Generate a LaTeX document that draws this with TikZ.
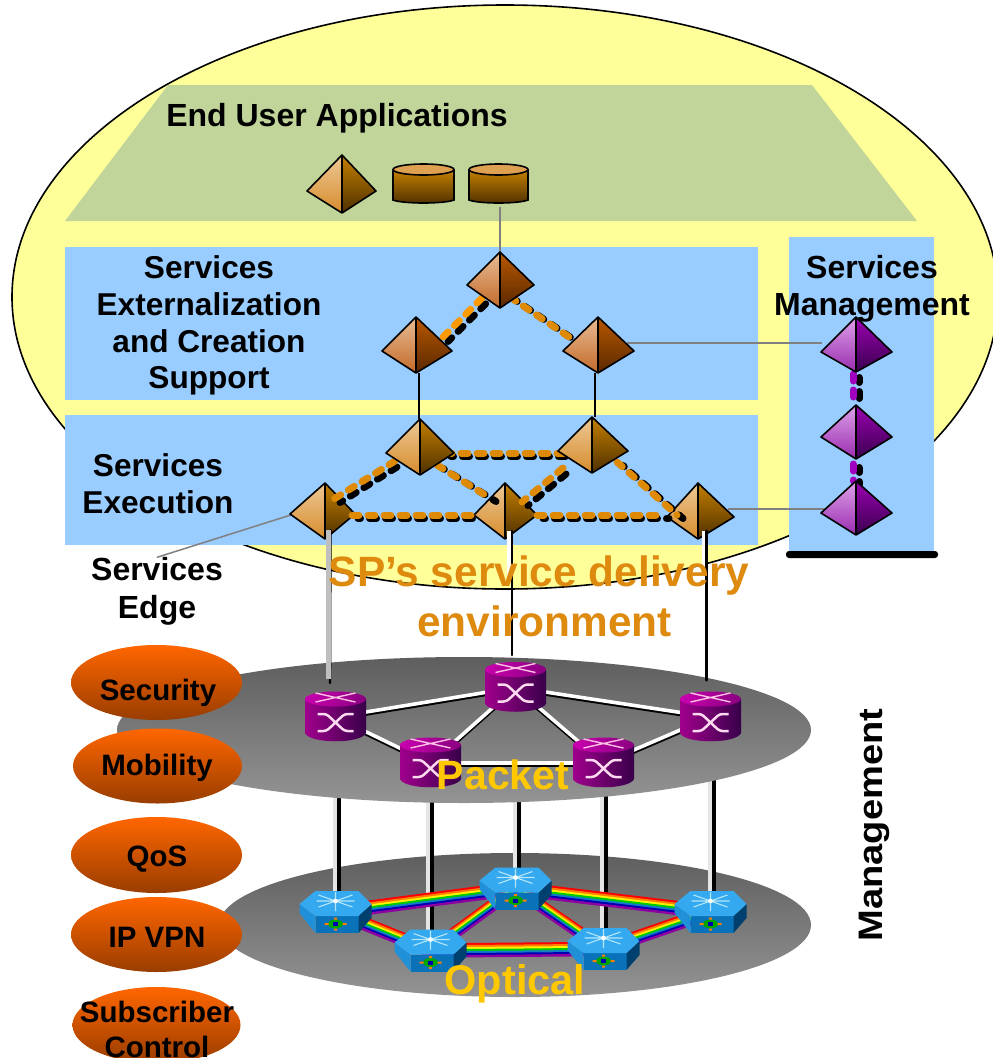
\documentclass[tikz,border=0pt]{standalone}
\usepackage{fontspec}
\setmainfont{Liberation Sans}
\usetikzlibrary{calc}
\definecolor{ltA}{HTML}{EDC896}\definecolor{lbA}{HTML}{D68C2C}\definecolor{rtA}{HTML}{C47F00}\definecolor{rbA}{HTML}{4F3000}
\definecolor{ltB}{HTML}{E9BC96}\definecolor{lbB}{HTML}{C26A28}\definecolor{rtB}{HTML}{B85800}\definecolor{rbB}{HTML}{5A2800}
\definecolor{ltP}{HTML}{DDA0E8}\definecolor{lbP}{HTML}{9A2DB0}\definecolor{rtP}{HTML}{9A00B0}\definecolor{rbP}{HTML}{3A0050}
\definecolor{envyellow}{HTML}{FFFF99}
\definecolor{layerblue}{HTML}{99CCFF}
\definecolor{appgreen}{HTML}{C1D59A}
\definecolor{linkorange}{HTML}{DE8A05}
\definecolor{linkbright}{HTML}{FF9900}
\definecolor{linkpurple}{HTML}{A000C0}
\definecolor{sptext}{HTML}{DE8A0F}
\definecolor{gold}{HTML}{FFC800}
\definecolor{rtrL}{HTML}{A0008C}\definecolor{rtrR}{HTML}{38004A}
\definecolor{rtrTopL}{HTML}{C800AE}\definecolor{rtrTopR}{HTML}{8A0080}
\definecolor{swTop}{HTML}{35A9EF}\definecolor{swLeft}{HTML}{2090D8}\definecolor{swFront}{HTML}{0A72B8}\definecolor{swRight}{HTML}{00406E}
\definecolor{ovalT}{HTML}{FF6600}\definecolor{ovalB}{HTML}{993D00}
\tikzset{
  lab/.style 2 args={font=\fontsize{#1}{#2}\selectfont\bfseries,align=center,inner sep=0pt},
  lk/.style={line width=7pt,line cap=round,dash pattern=on 7pt off 9pt},
  thinline/.style={line width=1.5pt,black},
  greyline/.style={line width=1.5pt,color=black!50},
  edgeline/.style={line width=1.6pt,black},
  plane/.style={top color=black!63,bottom color=black!42},
}
% pyramid: colour set, name, left, ridge x, right, top, mid, bottom
\newcommand\pyramid[8]{%
  \coordinate (#2) at (#4,#7);
  \shade[top color=lt#1,bottom color=lb#1] (#3,#7) -- (#4,#6) -- (#4,#8) -- cycle;
  \shade[top color=rt#1,bottom color=rb#1] (#5,#7) -- (#4,#6) -- (#4,#8) -- cycle;
  \draw[edgeline,line join=round] (#3,#7) -- (#4,#6) -- (#5,#7) -- (#4,#8) -- cycle (#4,#6) -- (#4,#8);
}
% dashed link with a black shadow whose dashes stay almost in step with the upper line
\newcommand\dlk[5][linkorange]{%
  \coordinate (lka) at ($(#2)+(#3)$);
  \coordinate (lkb) at ($(#4)+(#5)$);
  \path let \p1=($(lkb)-(lka)$), \n1={veclen(\x1,\y1)}, \n2={(6*\x1-3.5*\y1)/\n1+30.5} in \pgfextra{\xdef\dph{\n2}};
  \draw[lk,dash phase=\dph,black] ($(lka)+(6,3.5)$) -- ($(lkb)+(6,3.5)$);
  \draw[lk,#1] (lka) -- (lkb);
}
\newcommand\cyl[5]{%
  \coordinate (#1) at ({(#2+#3)/2},{(#4+#5)/2});
  \shade[top color=rtA,bottom color=rbA] (#2,#4+6) -- (#2,#5-3) .. controls (#2+10,#5+1) and (#3-10,#5+1) .. (#3,#5-3) -- (#3,#4+6) -- cycle;
  \draw[edgeline] (#2,#4+6) -- (#2,#5-3) .. controls (#2+10,#5+1) and (#3-10,#5+1) .. (#3,#5-3) -- (#3,#4+6);
  \draw[edgeline,fill=ltA!35!lbA] ({(#2+#3)/2},#4+5.5) ellipse[x radius={(#3-#2)/2},y radius=5.5];
}
\newcommand\router[3]{%
  \begin{scope}[shift={(#2,#3)}]
  \coordinate (#1) at (0,0);
  \shade[left color=rtrL,right color=rtrR] (-30.5,-18) -- (-30.5,16) .. controls (-26,27) and (26,27) .. (30.5,16) -- (30.5,-18) -- cycle;
  \shade[left color=rtrTopL,right color=rtrTopR] (0,-18) ellipse[x radius=30.5,y radius=7.5];
  \draw[white!85!magenta,line width=2.5pt,rounded corners=3pt]
    (-18,-3) -- (-9,-3) -- (9,14) -- (18,14) (-18,14) -- (-9,14) -- (9,-3) -- (18,-3);
  \draw[white!75!magenta,line width=1.4pt] (-20,-24) -- (20,-15) (-20,-15) -- (20,-24);
  \end{scope}
}
\newcommand\switch[3]{%
  \begin{scope}[shift={(#2,#3)}]
  \coordinate (#1) at (0,0);
  \fill[swLeft] (-36,-8) -- (-20,4) -- (-20,21) -- (-36,1) -- cycle;
  \fill[swFront] (-20,4) -- (23,4) -- (23,21) -- (-20,21) -- cycle;
  \fill[swRight] (23,4) -- (36,-8) -- (36,6) -- (23,21) -- cycle;
  \fill[swTop] (-20,-21) -- (23,-21) -- (36,-8) -- (23,4) -- (-20,4) -- (-36,-8) -- cycle;
  \draw[white!70!cyan,line width=1.1pt] (-17,-17) -- (17,-5) (-17,-5) -- (17,-17) (0,-20) -- (0,-1) (-19,-11) -- (19,-11);
  \fill[white] (0,-11) circle[radius=2.4];
  \fill[green!65!black] (0,12) ellipse[x radius=7.5,y radius=4.5];
  \fill[orange] (-11,11) rectangle (-7,13) (7,11) rectangle (11,13) (-1.5,5.5) rectangle (1.5,7.5) (-1.5,16.5) rectangle (1.5,18.5);
  \fill[blue!70!black] (-2.5,10) rectangle (2.5,14);
  \end{scope}
}
\newcommand\rainbow[2]{%
  \foreach \cc/\ss in {red/-6,orange/-4,yellow/-2,green!80!black/0,cyan!60!blue/2,blue!70!black/4,purple!60!blue!80!magenta/6}{
    \draw[\cc,line width=2.4pt] ($(#1)+(0,\ss)$) -- ($(#2)+(0,\ss)$);
  }%
}
\newcommand\wlink[2]{%
  \draw[black,line width=3.6pt] ($(#1)+(0,2)$) -- ($(#2)+(0,2)$);
  \draw[white,line width=3.6pt] (#1) -- (#2);
}
\newcommand\sblob[5]{%
  \shade[top color=ovalT,bottom color=ovalB] (#2,#3) ellipse[x radius=#4,y radius=#5];
  \coordinate (#1) at (#2,#3);
}
\begin{document}
\begin{tikzpicture}[x=1pt,y=-1pt]
\useasboundingbox (0,0) rectangle (993,1058);
\clip (0,0) rectangle (993,1058);
\fill[white] (0,0) rectangle (993,1058);
% environment
\draw[fill=envyellow,line width=1.6pt] (505,297) ellipse[x radius=493,y radius=292];
\fill[appgreen] (65,221) -- (917,221) -- (812,85) -- (168,85) -- cycle;
\fill[layerblue] (65,247) rectangle (758,400);
\fill[layerblue] (65,415) rectangle (758,545);
\fill[layerblue] (789,237) rectangle (934,552);
\fill[black,rounded corners=3pt] (786,551) rectangle (938,558);
% planes
\shade[plane] (515,925) ellipse[x radius=296,y radius=72];
\node[lab={32}{38}] (edgelabel) at (157,591.5) {Services\\Edge};
% routers and switches positions
\coordinate (R1) at (335.5,717);\coordinate (R2) at (515.5,687.5);\coordinate (R3) at (710.5,717);
\coordinate (R4) at (430.5,763);\coordinate (R5) at (603.5,763);
\coordinate (O1) at (335.5,912);\coordinate (O2) at (515.5,888.5);\coordinate (O3) at (710.5,912);
\coordinate (O4) at (430.5,950.5);\coordinate (O5) at (603.5,949);
% packet-optical connectors
\foreach \ra/\oa/\dx in {R1/O1/3.5,R4/O4/1.5,R2/O2/3.5,R5/O5/2.5,R3/O3/3.5}{
  \draw[white!90!black,line width=4pt] ($(\ra)+(\dx-4,0)$) -- ($(\oa)+(\dx-4,-16)$);
  \draw[black,line width=4pt] ($(\ra)+(\dx,0)$) -- ($(\oa)+(\dx,-20)$);
}
\shade[plane] (464,730) ellipse[x radius=347,y radius=73];
% optical ring
\rainbow{O1}{O2}\rainbow{O2}{O3}\rainbow{O2}{O4}\rainbow{O2}{O5}\rainbow{O1}{O4}\rainbow{O4}{O5}\rainbow{O5}{O3}
\switch{O1}{335.5}{912}\switch{O2}{515.5}{888.5}\switch{O3}{710.5}{912}\switch{O4}{430.5}{950.5}\switch{O5}{603.5}{949}
% packet ring
\wlink{R1}{R2}\wlink{R2}{R3}\wlink{R2}{R4}\wlink{R2}{R5}\wlink{R1}{R4}\wlink{R4}{R5}\wlink{R5}{R3}
\router{R1}{335.5}{717}\router{R2}{515.5}{687.5}\router{R3}{710.5}{717}\router{R4}{430.5}{763}\router{R5}{603.5}{763}
% service-layer node positions
\coordinate (B) at (500,285);\coordinate (C) at (416,351);\coordinate (D) at (598,351);
\coordinate (E) at (420,453);\coordinate (F) at (592,451);
\coordinate (G) at (325,514);\coordinate (H) at (505,515);\coordinate (I) at (698,517);
\coordinate (J) at (856,352);\coordinate (K) at (856,437);\coordinate (L) at (856,513);
% thin connectors
\cyl{cylA}{393}{454}{164}{203}
\cyl{cylB}{469}{528}{164}{203}
\pyramid{A}{apex}{307}{342}{376}{155}{191}{213}
\draw[greyline] ($(cylB)+(1.5,23)$) -- ($(B)+(0,-33)$);
\draw[thinline] ($(C)+(3,22)$) -- ($(E)+(-1,-34)$);
\draw[thinline] ($(D)+(-3,22)$) -- ($(F)+(3,-34)$);
\draw[greyline] ($(D)+(29,-8)$) -- ($(J)+(-34,-9)$);
\draw[greyline] ($(I)+(30,-8)$) -- ($(L)+(-31,-4)$);
\draw[greyline] (edgelabel.north) -- ($(G)+(-28,-1)$);
% purple chain
\dlk[linkpurple]{J}{-3,22}{K}{-3,-39}
\dlk[linkpurple]{K}{-3,27}{L}{-3,-32}
\pyramid{P}{J}{821}{856}{892}{317}{352}{372}
\pyramid{P}{K}{821}{856}{892}{405}{437}{459}
\pyramid{P}{L}{821}{856}{892}{481}{513}{535}
% lower row, partly overdrawn by the links
\pyramid{A}{G}{290}{325}{355}{483}{514}{539}
\pyramid{A}{H}{474}{505}{537}{483}{515}{539}
\pyramid{A}{I}{667}{698}{734}{483}{517}{539}
\dlk[linkbright]{B}{-18,13}{C}{26,-13}
\dlk[linkorange]{B}{10,12}{D}{-23,-10}
\dlk{E}{25,0}{F}{-17,2}
\dlk{E}{-25,8}{G}{9,-15}
\dlk{E}{17,12}{H}{-15,-17}
\dlk{F}{-29,17}{H}{17,-13}
\dlk{F}{25,11}{I}{-21,-2}
\dlk{G}{27,1}{H}{-31,0}
\dlk{H}{32,0}{I}{-35,-2}
\pyramid{B}{B}{467}{500}{534}{252}{285}{308}
\pyramid{B}{C}{382}{416}{452}{317}{351}{373}
\pyramid{B}{D}{563}{598}{634}{317}{351}{373}
\pyramid{A}{E}{386}{420}{454}{419}{453}{475}
\pyramid{A}{F}{558}{592}{628}{417}{451}{473}
% connectors to the packet plane
\draw[black,line width=2.4pt,line cap=round] ($(G)+(5.5,16)$) -- ($(R1)+(-5.5,-34)$);
\draw[black!25,line width=5pt] ($(G)+(3,16)$) -- ($(R1)+(-7.5,-38)$);
\draw[black,line width=2.4pt,line cap=round] ($(H)+(7,16)$) -- ($(R2)+(-3.5,-32.5)$);
\draw[white,line width=3.5pt] ($(H)+(4,16)$) -- ($(H)+(4,65)$);
\draw[black,line width=3pt,line cap=round] ($(I)+(8,14)$) -- ($(R3)+(-4.5,-37)$);
\draw[white,line width=3.5pt] ($(I)+(5.5,14)$) -- ($(I)+(5.5,60)$);
% ovals
\sblob{secO}{156.5}{682.5}{85.5}{37.5}
\sblob{mobO}{157.5}{766}{84.5}{37.5}
\sblob{qosO}{156.5}{855}{85.5}{38}
\sblob{vpnO}{156.5}{934.5}{85.5}{37.5}
\sblob{subO}{156.5}{1025}{84}{38}
% labels
\node[lab={32}{37}] (endusr) at (337,118) {End User Applications};
\node[lab={31.6}{36.8}] (extern) at (209,325.5) {Services\\Externalization\\and Creation\\Support};
\node[lab={31.6}{36.8}] (exec) at (158,483.5) {Services\\Execution};
\node[lab={32}{37}] (mgmt) at (872,288.5) {Services\\Management};
\node[lab={42.4}{50},text=sptext] (sp) at (539,596) {SP’s service delivery\\\hspace*{11pt}environment};
\node[lab={41}{47},text=gold] (packet) at (503,775) {Packet};
\node[lab={41.5}{47},text=gold] (optical) at (515,984) {Optical};
\node[lab={34}{38},rotate=90] (netmg) at (874,825) {\scalebox{1.12}[1]{Management}};
\node[lab={29.5}{35}] (sec) at (158,693) {Security};
\node[lab={29.5}{35}] (mob) at (157,768) {Mobility};
\node[lab={29.5}{35}] (qos) at (157,859) {QoS};
\node[lab={29.5}{35}] (vpn) at (157,937) {IP VPN};
\node[lab={29.5}{35}] (sub) at (157,1029) {Subscriber\\Control};
\end{tikzpicture}
\end{document}
